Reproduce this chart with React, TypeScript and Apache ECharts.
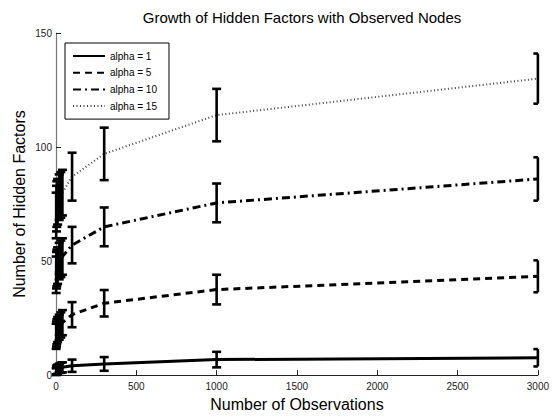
import React, { useEffect, useRef } from "react";
import * as echarts from "echarts";

const titleText = "Growth of Hidden Factors with Observed Nodes";
const xAxisName = "Number of Observations";
const yAxisName = "Number of Hidden Factors";

const observations = [1, 3, 5, 10, 20, 30, 40, 100, 300, 1000, 3000];

const seriesNames = ["alpha = 1", "alpha = 5", "alpha = 10", "alpha = 15"];

const alpha1Mean = [1.5, 2, 2.3, 2.6, 3, 3.2, 3.4, 4.1, 4.9, 6.8, 7.6];
const alpha1Err = [1.5, 1.8, 2, 2, 2, 2.2, 2.2, 2.7, 3, 3.4, 3.8];

const alpha5Mean = [17, 18, 19, 20, 21, 22, 23, 26.5, 31.5, 37.5, 43.3];
const alpha5Err = [5.5, 5.5, 5.5, 5.5, 5.5, 5.5, 5.5, 5.5, 5.8, 6.5, 7];

const alpha10Mean = [44, 46, 47, 48, 50, 51, 52, 57, 65, 75.5, 86];
const alpha10Err = [8, 8, 8, 8, 8, 8, 8, 8, 8.5, 8.5, 9.5];

const alpha15Mean = [70, 73, 75, 76, 78, 79, 80, 87, 97, 114, 130];
const alpha15Err = [10, 10, 10, 10, 10, 10, 10, 10.5, 11.5, 11.5, 11];

const means = [alpha1Mean, alpha5Mean, alpha10Mean, alpha15Mean];
const errs = [alpha1Err, alpha5Err, alpha10Err, alpha15Err];

const lineStyles: any[] = [
  { color: "#000", width: 3, type: "solid" },
  { color: "#000", width: 3, type: [7, 5] },
  { color: "#000", width: 3, type: [8, 4, 2, 4] },
  { color: "#444", width: 2, type: [1, 2.5] },
];

const FONT = "'Liberation Sans', Arial, Helvetica, sans-serif";

function renderErrorBar(params: any, api: any) {
  const x = api.value(0);
  const lo = api.value(1);
  const hi = api.value(2);
  const pLo = api.coord([x, lo]);
  const pHi = api.coord([x, hi]);
  const hw = 4.5;
  const cs = params.coordSys;
  const rightEdge = cs.x + cs.width;
  const capL = pLo[0] - hw;
  const capR = Math.min(pLo[0] + hw, rightEdge);
  const style = { stroke: "#000", lineWidth: 2.6, fill: null };
  return {
    type: "group",
    children: [
      { type: "line", shape: { x1: pLo[0], y1: pLo[1], x2: pHi[0], y2: pHi[1] }, style },
      { type: "line", shape: { x1: capL, y1: pLo[1], x2: capR, y2: pLo[1] }, style },
      { type: "line", shape: { x1: capL, y1: pHi[1], x2: capR, y2: pHi[1] }, style },
    ],
  };
}

export default function App() {
  const ref = useRef<HTMLDivElement>(null);
  useEffect(() => {
    const chart = echarts.init(ref.current!, null, { renderer: "svg" });
    const lineSeries = seriesNames.map((name, k) => ({
      name,
      type: "line",
      data: observations.map((x, i) => [x, means[k][i]]),
      symbol: "none",
      showSymbol: false,
      lineStyle: lineStyles[k],
      itemStyle: { color: lineStyles[k].color },
      clip: true,
      z: 2,
    }));
    const barSeries = seriesNames.map((name, k) => ({
      type: "custom",
      renderItem: renderErrorBar,
      data: observations.map((x, i) => [x, means[k][i] - errs[k][i], means[k][i] + errs[k][i]]),
      encode: { x: 0, y: [1, 2] },
      clip: false,
      z: 3,
      silent: true,
    }));
    chart.setOption({
      animation: false,
      backgroundColor: "#fff",
      textStyle: { fontFamily: FONT },
      title: {
        text: titleText,
        left: 297,
        textAlign: "center",
        top: 5,
        textStyle: { fontFamily: FONT, fontSize: 15, fontWeight: "normal", color: "#000" },
      },
      legend: {
        data: seriesNames,
        orient: "vertical",
        left: 65,
        top: 43,
        itemWidth: 32,
        itemHeight: 10,
        itemGap: 6.7,
        padding: [8, 12, 8, 7],
        borderColor: "#000",
        borderWidth: 1,
        backgroundColor: "#fff",
        itemStyle: { opacity: 0 },
        textStyle: { fontFamily: FONT, fontSize: 10, color: "#000" },
      },
      grid: { left: 56, right: 13, top: 33, bottom: 34, containLabel: false },
      xAxis: {
        type: "value",
        min: 0,
        max: 3000,
        interval: 500,
        name: xAxisName,
        nameLocation: "middle",
        nameGap: 15,
        nameTextStyle: { fontFamily: FONT, fontSize: 16, color: "#000" },
        axisLine: { show: true, lineStyle: { color: "#222", width: 1 } },
        axisTick: { show: true, inside: true, length: 5, lineStyle: { color: "#222" } },
        axisLabel: {
          fontFamily: FONT,
          fontSize: 10,
          color: "#222",
          margin: 6,
          formatter: (v: number) => String(v),
        },
        splitLine: { show: false },
      },
      yAxis: {
        type: "value",
        min: 0,
        max: 150,
        interval: 50,
        name: yAxisName,
        nameLocation: "middle",
        nameGap: 29,
        nameMoveOverlap: false,
        nameTextStyle: { fontFamily: FONT, fontSize: 16, color: "#000" },
        axisLine: { show: true, lineStyle: { color: "#777", width: 1.2 } },
        axisTick: { show: true, inside: true, length: 5, lineStyle: { color: "#222" } },
        axisLabel: {
          fontFamily: FONT,
          fontSize: 10,
          color: "#222",
          margin: 4,
          formatter: (v: number) => String(v),
        },
        splitLine: { show: false },
      },
      series: [...lineSeries, ...barSeries],
    });
    return () => chart.dispose();
  }, []);
  return (
    <div
      ref={ref}
      style={{ position: "fixed", left: 0, top: 0, width: 552, height: 417 }}
    />
  );
}
